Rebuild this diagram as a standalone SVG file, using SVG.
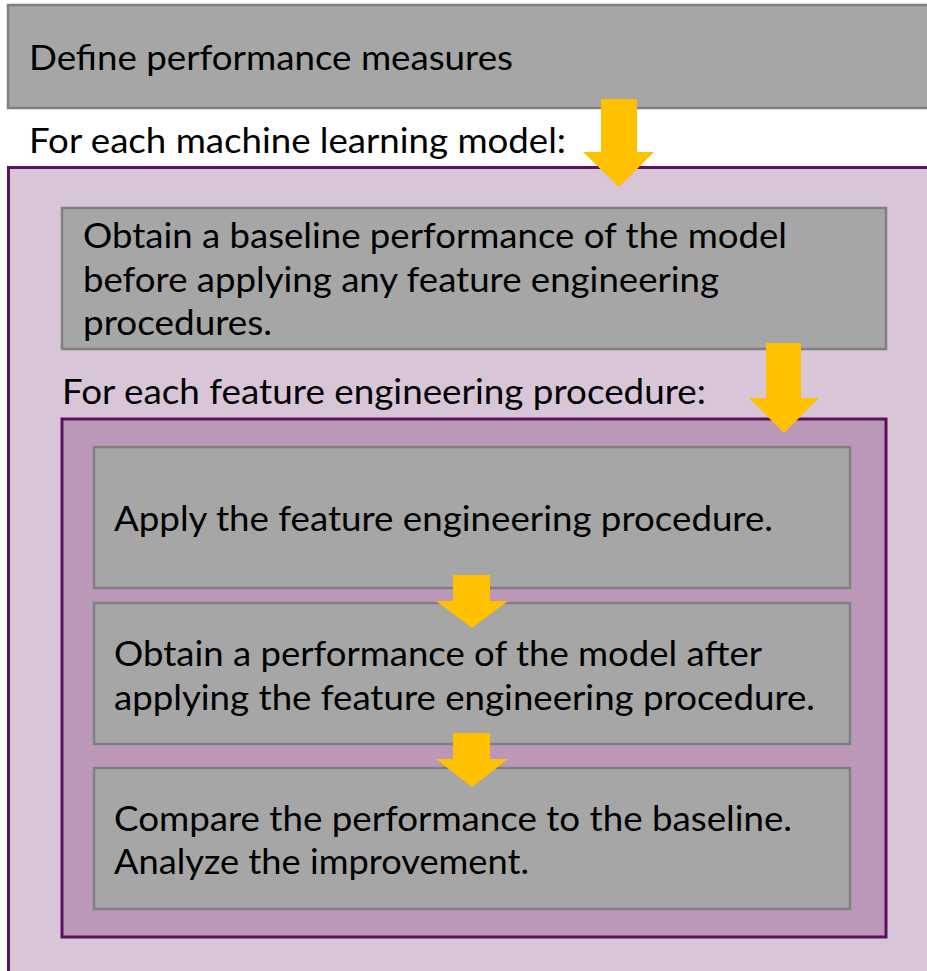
<svg xmlns="http://www.w3.org/2000/svg" width="927" height="971" viewBox="0 0 927 971">
<style>
.box{fill:#a6a6a6;stroke:#808080;stroke-width:2.5}
.outer{fill:#d8c5d8;stroke:#5c105e;stroke-width:3}
.inner{fill:#bb98b8;stroke:#5c105e;stroke-width:3}
.arr{fill:#ffc000}
text{font-family:Lato,"Open Sans","Liberation Sans",sans-serif;font-size:35px;fill:#000}
</style>
<rect width="927" height="971" fill="#ffffff"/>
<g id="define">
<rect class="box" x="8" y="5" width="935" height="103"/>
<text x="29" y="70" textLength="484" lengthAdjust="spacingAndGlyphs">Define performance measures</text>
</g>
<g id="model-loop">
<text x="29" y="153" textLength="537" lengthAdjust="spacingAndGlyphs">For each machine learning model:</text>
<rect class="outer" x="8.5" y="167.5" width="935" height="820"/>
</g>
<g id="baseline">
<rect class="box" x="62" y="208" width="824" height="141"/>
<text x="83" y="248" textLength="704" lengthAdjust="spacingAndGlyphs">Obtain a baseline performance of the model</text>
<text x="83" y="292" textLength="636" lengthAdjust="spacingAndGlyphs">before applying any feature engineering</text>
<text x="83" y="335" textLength="189" lengthAdjust="spacingAndGlyphs">procedures.</text>
</g>
<g id="fe-loop">
<text x="62" y="404" textLength="644" lengthAdjust="spacingAndGlyphs">For each feature engineering procedure:</text>
<rect class="inner" x="62" y="419" width="824" height="518"/>
</g>
<g id="apply">
<rect class="box" x="94" y="447" width="756" height="141"/>
<text x="114" y="531" textLength="659" lengthAdjust="spacingAndGlyphs">Apply the feature engineering procedure.</text>
</g>
<g id="obtain-after">
<rect class="box" x="94" y="603" width="756" height="141"/>
<text x="114" y="666" textLength="648" lengthAdjust="spacingAndGlyphs">Obtain a performance of the model after</text>
<text x="114" y="710" textLength="701" lengthAdjust="spacingAndGlyphs">applying the feature engineering procedure.</text>
</g>
<g id="compare">
<rect class="box" x="94" y="768" width="756" height="141"/>
<text x="114" y="831" textLength="678" lengthAdjust="spacingAndGlyphs">Compare the performance to the baseline.</text>
<text x="114" y="874" textLength="415" lengthAdjust="spacingAndGlyphs">Analyze the improvement.</text>
</g>
<g id="connectors">
<polygon class="arr" points="601,99 637,99 637,152 654,152 619,187 583,152 601,152"/>
<polygon class="arr" points="766,343 801,343 801,398 819,398 784,433 749,398 766,398"/>
<polygon class="arr" points="453,575 490,575 490,601 508,601 472,628 436,601 453,601"/>
<polygon class="arr" points="453,733 490,733 490,759 508,759 472,787 436,759 453,759"/>
</g>
</svg>
